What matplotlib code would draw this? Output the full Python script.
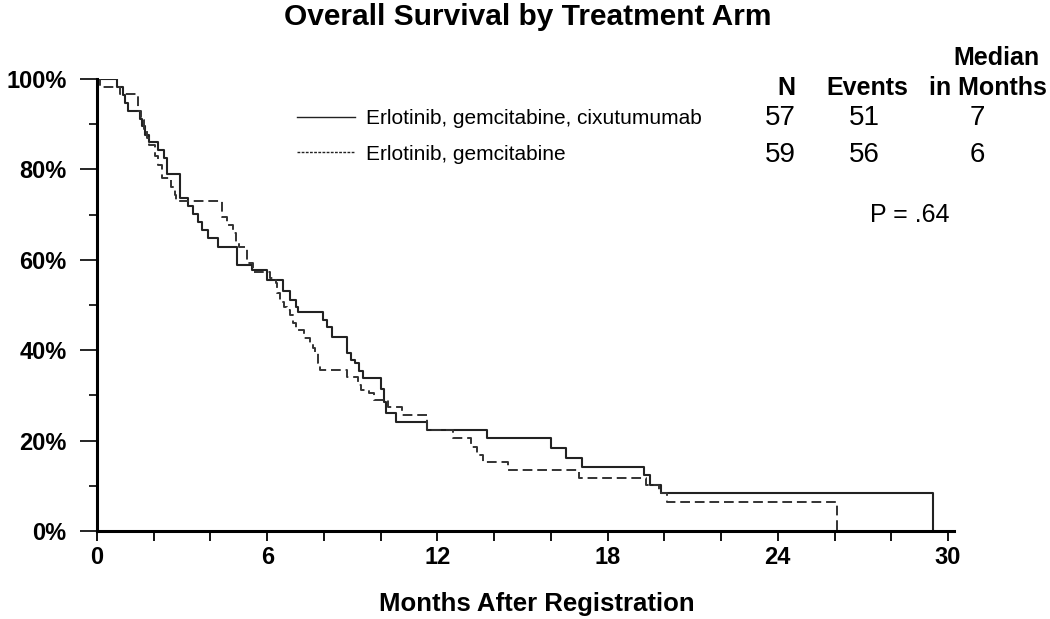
import matplotlib
matplotlib.use("Agg")
import matplotlib.pyplot as plt
from matplotlib.lines import Line2D
from matplotlib.ticker import MultipleLocator

plt.rcParams['font.family'] = ['Liberation Sans', 'DejaVu Sans']

arms = ["Erlotinib, gemcitabine, cixutumumab", "Erlotinib, gemcitabine"]
n_pts = [57, 59]
n_events = [51, 56]
median_months = [7, 6]
p_text = "P = .64"

# Kaplan-Meier steps (months, % alive)
combo_t = [0, 0.7, 0.9, 1.0, 1.1, 1.52, 1.6, 1.7, 1.85, 2.15, 2.35, 2.46, 2.93,
           3.2, 3.4, 3.55, 3.7, 3.9, 4.27, 4.95, 5.45, 6.0, 6.55, 6.8, 7.0, 7.08,
           7.95, 8.1, 8.28, 8.81, 8.95, 9.1, 9.25, 9.38, 10.0, 10.1, 10.2, 10.55,
           11.65, 13.75, 16.0, 16.55, 17.1, 19.3, 19.5, 19.9, 29.47]
combo_s = [100, 98.2, 96.5, 94.7, 93.0, 91.2, 89.5, 87.7, 86.0, 84.2, 82.5, 78.9, 73.7,
           72.0, 70.2, 68.4, 66.7, 64.9, 62.9, 58.8, 57.7, 55.5, 53.0, 51.0, 49.5, 48.5,
           46.7, 45.1, 43.0, 39.4, 37.8, 37.2, 35.4, 33.8, 31.5, 28.5, 26.1, 24.2,
           22.3, 20.5, 18.4, 16.2, 14.2, 12.3, 10.2, 8.3, 0]

ctrl_t = [0, 0.1, 0.8, 1.45, 1.55, 1.65, 1.75, 1.85, 2.05, 2.15, 2.3, 2.6, 2.75, 2.8,
          4.4, 4.6, 4.8, 4.9, 5.0, 5.3, 5.5, 6.1, 6.3, 6.35, 6.45, 6.6, 6.7, 6.8, 6.9,
          7.0, 7.3, 7.5, 7.6, 7.7, 7.8, 7.86, 8.8, 9.2, 9.3, 9.6, 9.75, 10.25, 10.75,
          11.65, 12.55, 13.2, 13.4, 13.6, 14.5, 17.0, 19.35, 19.8, 20.1, 26.1]
ctrl_s = [100, 98.3, 96.6, 93.0, 91.0, 89.0, 87.0, 85.4, 83.0, 81.0, 78.0, 76.0, 74.3, 73.0,
          69.5, 67.8, 66.0, 64.0, 62.8, 59.3, 57.3, 56.0, 54.9, 52.7, 50.7, 49.6, 48.9, 47.8, 46.0,
          44.5, 42.7, 41.6, 40.5, 39.4, 37.2, 35.6, 34.1, 32.3, 31.2, 30.5, 29.0, 27.5, 25.7,
          22.3, 20.6, 18.6, 16.8, 15.3, 13.5, 11.7, 10.2, 8.4, 6.5, 0]

fig = plt.figure(figsize=(10.5, 6.19), dpi=100)
ax = fig.add_axes([97/1050, 1 - 531/619, (948 - 97)/1050, (531 - 79)/619])

ax.step(combo_t, combo_s, where='post', color='#222222', lw=1.5)
ax.step(ctrl_t, ctrl_s, where='post', color='#333333', lw=1.4, linestyle=(0, (5, 2.5)))

ax.set_xlim(0, 30)
ax.set_ylim(0, 100)
ax.spines['top'].set_visible(False)
ax.spines['right'].set_visible(False)
ax.spines['left'].set_linewidth(2.2)
ax.spines['bottom'].set_linewidth(2.2)
ax.spines['bottom'].set_bounds(0, 30.2)

ax.set_yticks(range(0, 101, 20))
ax.set_yticklabels([f"{v}%" for v in range(0, 101, 20)])
ax.yaxis.set_minor_locator(MultipleLocator(10))
ax.xaxis.set_major_locator(MultipleLocator(6))
ax.xaxis.set_minor_locator(MultipleLocator(2))
ax.tick_params(axis='y', which='major', length=12, width=1.2, pad=10, labelsize=17)
ax.tick_params(axis='y', which='minor', length=6, width=1.2)
ax.tick_params(axis='x', which='both', length=7, width=1.3)
ax.tick_params(axis='x', which='major', pad=4, labelsize=17)
for lab in ax.get_xticklabels() + ax.get_yticklabels():
    lab.set_fontweight('bold')

fig.text(528/1050, 1 - 17/619, "Overall Survival by Treatment Arm", ha='center', va='center',
         fontsize=21.5, fontweight='bold')
fig.text(537/1050, 1 - 604/619, "Months After Registration", ha='center', va='center',
         fontsize=18.5, fontweight='bold')

handles = [Line2D([], [], color='#222222', lw=1.0),
           Line2D([], [], color='#222222', lw=1.0, linestyle=(0, (2, 1)))]
ax.legend(handles, arms, loc='upper left', bbox_to_anchor=(0.213, 0.975), frameon=False,
          fontsize=15, handlelength=2.8, handletextpad=0.5, labelspacing=0.8)

# table next to the legend
hdr_y = 1 - 88/619
row_y = [1 - 118/619, 1 - 155/619]
cols = [780/1050, 864/1050, 977/1050]
fig.text(786/1050, hdr_y, "N", ha='center', va='center', fontsize=18, fontweight='bold')
fig.text(867/1050, hdr_y, "Events", ha='center', va='center', fontsize=18, fontweight='bold')
fig.text(988/1050, hdr_y, "in Months", ha='center', va='center', fontsize=18, fontweight='bold')
fig.text(996/1050, 1 - 58/619, "Median", ha='center', va='center', fontsize=18, fontweight='bold')
for i in range(2):
    fig.text(cols[0], row_y[i], str(n_pts[i]), ha='center', va='center', fontsize=20)
    fig.text(cols[1], row_y[i], str(n_events[i]), ha='center', va='center', fontsize=20)
    fig.text(cols[2], row_y[i], str(median_months[i]), ha='center', va='center', fontsize=20)
fig.text(910/1050, 1 - 215/619, p_text, ha='center', va='center', fontsize=18)

fig.savefig("out.png", dpi=100)
